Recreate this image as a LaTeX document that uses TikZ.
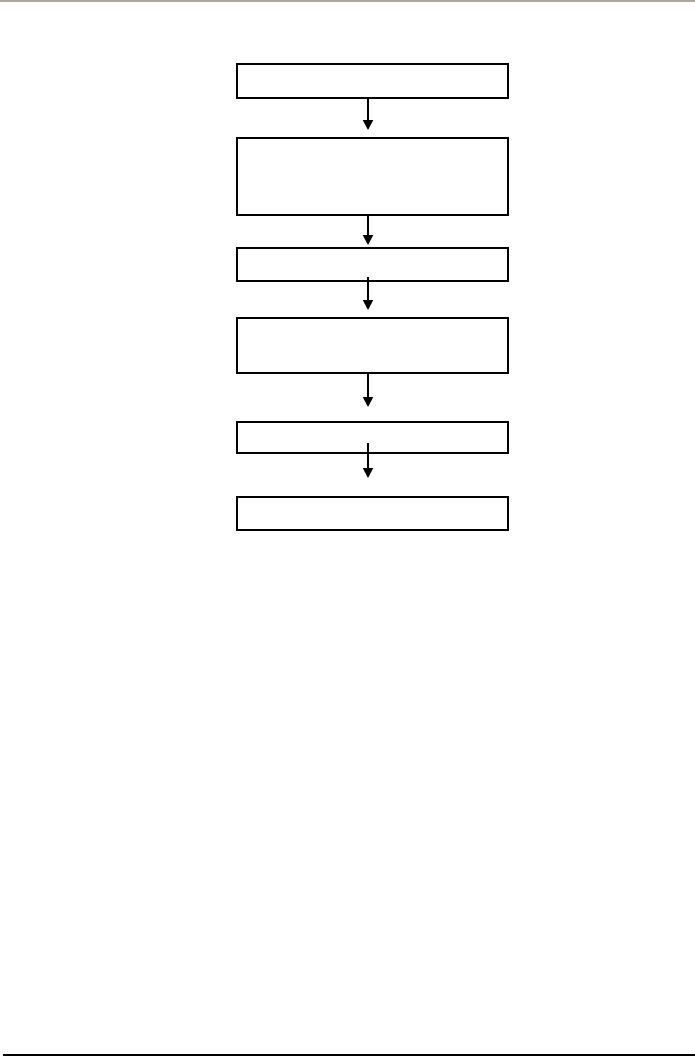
\documentclass[tikz,border=0pt]{standalone}
\usetikzlibrary{arrows.meta}
\definecolor{topgrey}{HTML}{ACA899}
\begin{document}
\begin{tikzpicture}[x=1pt,y=-1pt,
  box/.style={draw=black,line width=1.8pt,rectangle,minimum width=271pt,inner sep=0pt,outer sep=0pt,fill=white},
  arr/.style={draw=black,line width=1.8pt,-{Triangle[width=10pt,length=10pt]}}]
\useasboundingbox (0,0) rectangle (695,1057);
\fill[white] (0,0) rectangle (695,1057);
\fill[topgrey] (0,0) rectangle (695,2.5);
\fill[black] (3,1053.5) rectangle (695,1056);
\coordinate (ax) at (368,0);
\node[box,minimum height=34pt] (b1) at (372.5,81) {};
\node[box,minimum height=77pt] (b2) at (372.5,176.5) {};
\node[box,minimum height=33pt] (b3) at (372.5,264.5) {};
\node[box,minimum height=55pt] (b4) at (372.5,345.5) {};
\node[box,minimum height=31pt] (b5) at (372.5,437.5) {};
\node[box,minimum height=33pt] (b6) at (372.5,513.5) {};
\draw[arr] (b1.south -| ax) -- ([yshift=8pt]b2.north -| ax);
\draw[arr] (b2.south -| ax) -- ([yshift=3pt]b3.north -| ax);
\draw[arr] ([yshift=4pt]b3.south -| ax) -- ([yshift=8pt]b4.north -| ax);
\draw[arr] (b4.south -| ax) -- ([yshift=15pt]b5.north -| ax);
\draw[arr] ([yshift=10pt]b5.south -| ax) -- ([yshift=19pt]b6.north -| ax);
\end{tikzpicture}
\end{document}
